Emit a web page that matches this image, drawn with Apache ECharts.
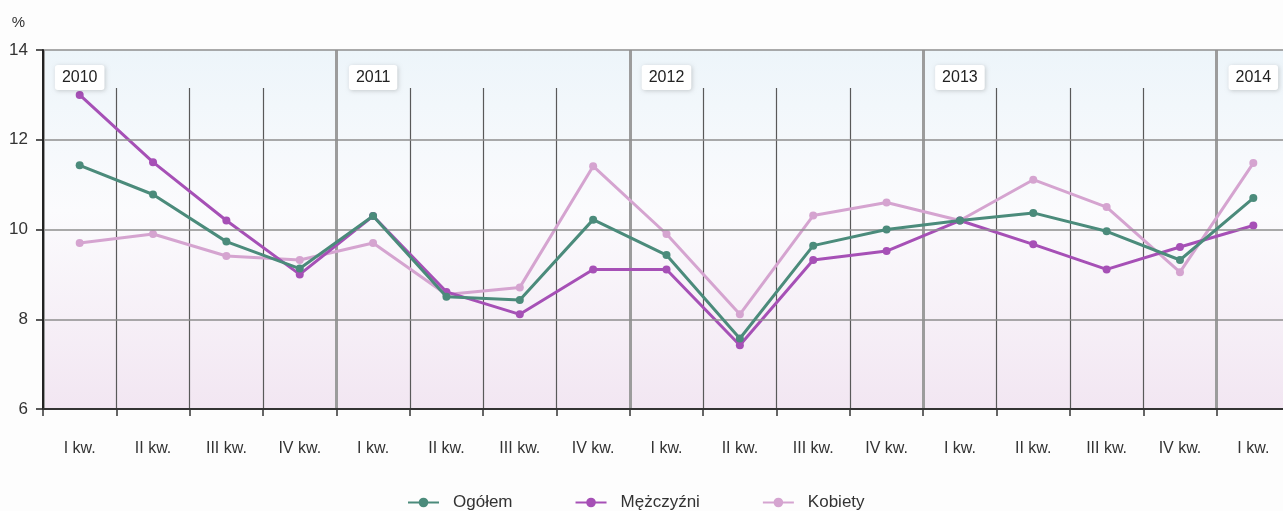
<!DOCTYPE html>
<html>
<head>
<meta charset="utf-8">
<script src="https://cdn.jsdelivr.net/npm/echarts@6/dist/echarts.min.js"></script>
<style>
html,body{margin:0;padding:0;background:#fdfdfd;}
#chart{width:1283px;height:511px;}
</style>
</head>
<body>
<div id="chart"></div>
<script>
var quarters = ['I kw.','II kw.','III kw.','IV kw.','I kw.','II kw.','III kw.','IV kw.','I kw.','II kw.','III kw.','IV kw.','I kw.','II kw.','III kw.','IV kw.','I kw.'];
var years = ['2010','','','','2011','','','','2012','','','','2013','','','','2014'];
var yTicks = [6, 8, 10, 12, 14];
var seriesNames = ['Ogółem','Mężczyźni','Kobiety'];
var ogolem    = [11.43, 10.78, 9.73, 9.13, 10.3, 8.5, 8.43, 10.22, 9.43, 7.57, 9.64, 10.0, 10.2, 10.37, 9.96, 9.32, 10.7];
var mezczyzni = [13.0, 11.5, 10.2, 9.0, 10.3, 8.61, 8.11, 9.11, 9.11, 7.42, 9.32, 9.52, 10.2, 9.67, 9.11, 9.61, 10.09];
var kobiety   = [9.7, 9.9, 9.41, 9.32, 9.7, 8.55, 8.71, 11.41, 9.9, 8.11, 10.31, 10.6, 10.2, 11.11, 10.5, 9.05, 11.48];

var FONT = '"Liberation Sans", Arial, sans-serif';
var colors = ['#4b8b7b', '#a650b6', '#d5a4d0'];
var chart = echarts.init(document.getElementById('chart'), null, {renderer: 'canvas'});

function lineSeries(name, data, color, z) {
  return {
    name: name, type: 'line', data: data,
    xAxisIndex: 0, yAxisIndex: 0,
    symbol: 'circle', symbolSize: 8, z: z,
    lineStyle: {color: color, width: 3},
    itemStyle: {color: color},
    emphasis: {disabled: true}
  };
}

var option = {
  animation: false,
  backgroundColor: '#fdfdfd',
  color: colors,
  grid: [
    {left: 43, width: 1247, top: 50, height: 359, show: true, borderWidth: 0,
     outerBoundsMode: 'none', containLabel: false,
     backgroundColor: {type: 'linear', x: 0, y: 0, x2: 0, y2: 1,
       colorStops: [{offset: 0, color: '#edf5fa'}, {offset: 0.45, color: '#fbfbfd'}, {offset: 1, color: '#f2e6f2'}]}},
    {left: 43, width: 1247, top: 88, height: 321, show: false, outerBoundsMode: 'none', containLabel: false}
  ],
  xAxis: [
    {type: 'category', gridIndex: 0, data: quarters, position: 'bottom', boundaryGap: true, z: 5,
     axisLine: {show: true, lineStyle: {color: '#333', width: 2}},
     axisTick: {show: true, length: 7, lineStyle: {color: '#333', width: 1.5}},
     axisLabel: {interval: 0, margin: 32, fontFamily: FONT, fontSize: 16, color: '#333'},
     splitLine: {show: false}},
    {type: 'value', gridIndex: 0, min: 0, max: 17, interval: 4, position: 'bottom', z: 3,
     axisLine: {show: false}, axisTick: {show: false}, axisLabel: {show: false},
     splitLine: {show: true, lineStyle: {color: '#9c9c9c', width: 3}}},
    {type: 'category', gridIndex: 0, data: years, position: 'top', boundaryGap: true, z: 6,
     axisLine: {show: false}, axisTick: {show: false},
     axisLabel: {inside: true, margin: 15, interval: function (i, v) { return v !== ''; },
       fontFamily: FONT, fontSize: 16, color: '#222',
       backgroundColor: '#ffffff', padding: [5, 7, 4, 7], borderRadius: 3,
       shadowBlur: 4, shadowColor: 'rgba(0,0,0,0.18)', shadowOffsetX: 1, shadowOffsetY: 1},
     splitLine: {show: false}},
    {type: 'value', gridIndex: 1, min: 0, max: 17, interval: 1, z: 2,
     axisLine: {show: false}, axisTick: {show: false}, axisLabel: {show: false},
     splitLine: {show: true, lineStyle: {color: '#595959', width: 1.2}}}
  ],
  yAxis: [
    {type: 'value', gridIndex: 0, min: yTicks[0], max: yTicks[yTicks.length - 1], interval: 2, z: 5,
     name: '%', nameLocation: 'end', nameGap: 20,
     nameTextStyle: {fontFamily: FONT, fontSize: 15, color: '#333', align: 'right', padding: [0, 18, 0, 0]},
     axisLine: {show: true, lineStyle: {color: '#222', width: 2}},
     axisTick: {show: true, length: 7, lineStyle: {color: '#222', width: 1.5}},
     axisLabel: {margin: 15, fontFamily: FONT, fontSize: 17, color: '#333'},
     splitLine: {show: true, lineStyle: {color: '#8e8e8e', width: 1.5}}},
    {type: 'value', gridIndex: 1, min: 0, max: 1, show: false, splitLine: {show: false}}
  ],
  legend: {
    top: 489, left: 402, itemWidth: 31, itemHeight: 12, itemGap: 62,
    textStyle: {fontFamily: FONT, fontSize: 17, color: '#333', padding: [0, 0, 0, 9]},
    data: seriesNames
  },
  series: [
    lineSeries(seriesNames[0], ogolem, colors[0], 5),
    lineSeries(seriesNames[1], mezczyzni, colors[1], 4),
    lineSeries(seriesNames[2], kobiety, colors[2], 3)
  ]
};
chart.setOption(option);
</script>
</body>
</html>
